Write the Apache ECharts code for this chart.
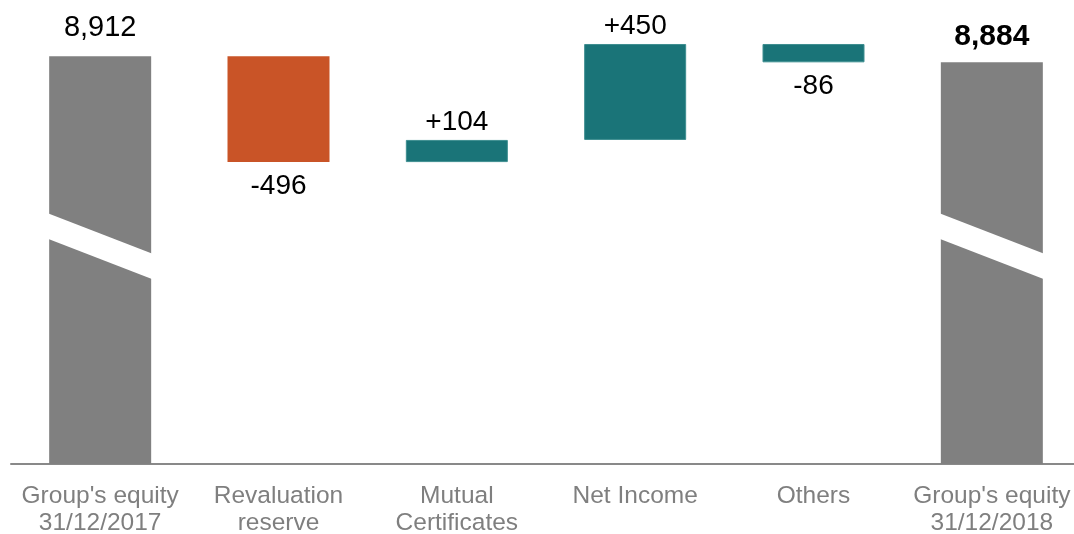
<!DOCTYPE html>
<html>
<head>
<meta charset="utf-8">
<script src="https://cdn.jsdelivr.net/npm/echarts@6/dist/echarts.min.js"></script>
<style>
html,body{margin:0;padding:0;background:#fff;}
#main{width:1074px;height:534px;}
</style>
</head>
<body>
<div id="main"></div>
<script>
var categories = ["Group's equity\n31/12/2017", "Revaluation\nreserve", "Mutual\nCertificates", "Net Income", "Others", "Group's equity\n31/12/2018"];
var startTotal = 8912;
var endTotal = 8884;
var changes = [null, -496, 104, 450, -86, null];
var valueLabels = ["8,912", "-496", "+104", "+450", "-86", "8,884"];

var GRAY = '#808080', ORANGE = '#C95427', TEAL = '#1A7478';
var FONT = "'Liberation Sans', Arial, sans-serif";

// build waterfall
var baseData = [], deltaData = [], totalData = [];
var running = startTotal;
for (var i = 0; i < categories.length; i++) {
  if (i === 0) {
    totalData.push({value: startTotal, label: {show: true, position: 'top', distance: 14, fontSize: 29, formatter: valueLabels[i]}});
    baseData.push('-'); deltaData.push('-');
  } else if (i === categories.length - 1) {
    totalData.push({value: endTotal, label: {show: true, position: 'top', distance: 11, fontWeight: 'bold', fontSize: 30, formatter: valueLabels[i]}});
    baseData.push('-'); deltaData.push('-');
  } else {
    var c = changes[i];
    var lo = c < 0 ? running + c : running;
    var isOrange = (i === 1);
    baseData.push(lo);
    deltaData.push({
      value: Math.abs(c),
      itemStyle: {color: isOrange ? ORANGE : TEAL, borderColor: isOrange ? ORANGE : '#3E8E90', borderWidth: isOrange ? 0 : 1},
      label: {show: true, position: c < 0 ? 'bottom' : 'top', distance: c < 0 ? 10 : 4, formatter: valueLabels[i]}
    });
    totalData.push('-');
    running += c;
  }
}
var breakData = [[0, 8000], [categories.length - 1, 8000]];

var chart = echarts.init(document.getElementById('main'), null, {renderer: 'canvas'});
chart.setOption({
  animation: false,
  backgroundColor: '#fff',
  textStyle: {fontFamily: FONT},
  grid: {left: 11, top: 37.6, bottom: 70, width: 1070, outerBoundsMode: 'none', containLabel: false},
  xAxis: {
    type: 'category',
    data: categories,
    axisTick: {show: false},
    axisLine: {lineStyle: {color: '#898989', width: 2}},
    axisLabel: {color: '#7F7F7F', fontSize: 24.5, lineHeight: 27, margin: 18.5, fontFamily: FONT, interval: 0}
  },
  yAxis: {type: 'value', min: 7000, max: 9000, show: false, splitLine: {show: false}},
  series: [
    {type: 'bar', stack: 'w', data: baseData, barWidth: 102, itemStyle: {color: 'transparent'}, silent: true},
    {type: 'bar', stack: 'w', data: deltaData, barWidth: 102,
     label: {color: '#000', fontSize: 28, fontFamily: FONT}},
    {type: 'bar', stack: 'w', data: totalData, barWidth: 102, itemStyle: {color: GRAY},
     label: {color: '#000', fontSize: 28, fontFamily: FONT}},
    {type: 'custom', data: breakData, z: 10, silent: true,
     encode: {x: 0, y: 1},
     renderItem: function (params, api) {
       var idx = api.value(0);
       var cx = api.coord([idx, api.value(1)])[0];
       var hw = 53;
       var lt = api.coord([idx, 8177])[1], lb = api.coord([idx, 8058])[1];
       var rt = api.coord([idx, 7985])[1], rb = api.coord([idx, 7865])[1];
       return {
         type: 'polygon',
         shape: {points: [[cx - hw, lt], [cx + hw, rt], [cx + hw, rb], [cx - hw, lb]]},
         style: {fill: '#fff'}
       };
     }
    }
  ]
});
</script>
</body>
</html>
